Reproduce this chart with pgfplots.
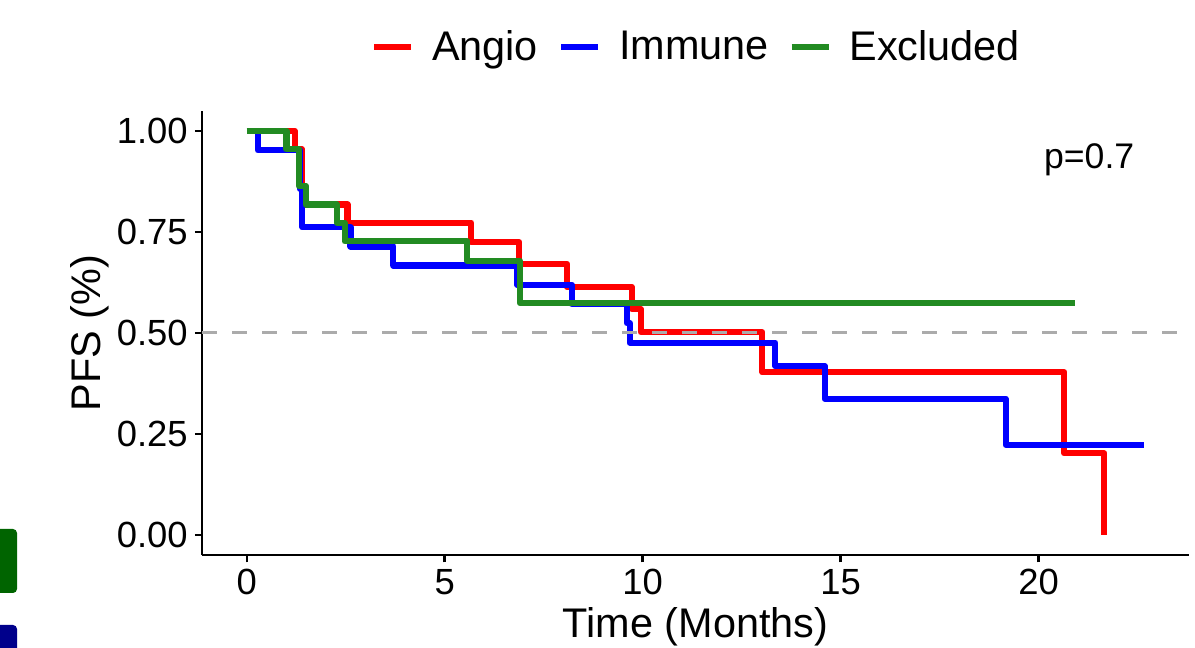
\documentclass[border=0pt]{standalone}
\usepackage{fontspec}
\setmainfont{Liberation Sans}
\usepackage{pgfplots}
\pgfplotsset{compat=1.18}
\definecolor{kmred}{HTML}{FF0000}
\definecolor{kmblue}{HTML}{0000FF}
\definecolor{kmgreen}{HTML}{228B22}
\definecolor{medgray}{HTML}{ABABAB}
\definecolor{tabgreen}{HTML}{006400}
\definecolor{tabblue}{HTML}{00008B}

% Kaplan-Meier steps: (time, survival from that time on)
\pgfplotstableread{
t s
0 1
1.21 0.955
1.39 0.864
1.46 0.818
2.54 0.773
5.67 0.725
6.88 0.671
8.09 0.614
9.72 0.559
9.95 0.502
13.02 0.403
20.65 0.202
21.66 0
}\angio
\pgfplotstableread{
t s
0 1
0.28 0.952
1.34 0.857
1.40 0.762
2.62 0.714
3.70 0.667
6.83 0.619
8.21 0.571
9.60 0.524
9.67 0.476
13.35 0.418
14.60 0.337
19.17 0.223
22.67 0.223
}\immune
\pgfplotstableread{
t s
0 1
1.00 0.955
1.31 0.864
1.49 0.818
2.27 0.773
2.47 0.727
5.57 0.679
6.90 0.574
20.93 0.574
}\excluded

\begin{document}
\begin{tikzpicture}
\path[use as bounding box] (0,0) rectangle (597.5pt,324pt);
\fill[tabgreen, rounded corners=2pt] (-5pt,27.5pt) rectangle (8.5pt,59.5pt);
\fill[tabblue, rounded corners=2pt] (-5pt,-5pt) rectangle (8.5pt,11.5pt);
\begin{axis}[
  at={(101pt,46.4pt)}, anchor=south west,
  scale only axis, width=493.5pt, height=222.2pt,
  xmin=-1.133, xmax=23.8, ymin=-0.05, ymax=1.05,
  axis x line*=bottom, axis y line*=left,
  axis line style={-, line width=1.3pt, black},
  xtick={0,5,10,15,20},
  ytick={0,0.25,0.5,0.75,1},
  yticklabel style={/pgf/number format/.cd, fixed, fixed zerofill, precision=2},
  /pgf/number format/assume math mode=true,
  tick align=outside, major tick length=3.6pt,
  tick style={line width=1.3pt, black},
  tick label style={font=\fontsize{18.2}{20}\selectfont},
  xlabel={Time (Months)}, ylabel={PFS (\%)},
  label style={font=\fontsize{20.7}{23}\selectfont},
  xlabel style={at={(axis description cs:0.5,-0.1863)}, anchor=base, inner sep=0pt},
  ylabel style={at={(axis description cs:-0.1033,0.5)}, anchor=base, inner sep=0pt},
  legend columns=3,
  legend image code/.code={\draw[#1, line width=3pt] (0pt,0pt) -- (18.5pt,0pt);},
  legend style={at={(axis description cs:0.5,1.1436)}, anchor=center,
    draw=none, fill=none, font=\fontsize{20.7}{23}\selectfont,
    nodes={inner sep=0pt},
    /tikz/every odd column/.append style={column sep=9pt},
    /tikz/every even column/.append style={column sep=10pt}},
  clip=false,
  every axis plot/.append style={line width=3.1pt, line join=round, line cap=butt, const plot mark left},
]
\addplot[kmred] table[x=t, y=s] {\angio};
\addlegendentry{Angio}
\addplot[kmblue] table[x=t, y=s] {\immune};
\addlegendentry{Immune}
\addplot[kmgreen] table[x=t, y=s] {\excluded};
\addlegendentry{Excluded}
\addplot[medgray, line width=1.5pt, dash pattern=on 7.5pt off 7.5pt, forget plot] coordinates {(-1.133,0.5) (23.8,0.5)};
\node[anchor=base west, font=\fontsize{17.8}{20}\selectfont, inner sep=0pt] at (axis cs:20.13,0.908) {p=0.7};
\end{axis}
\end{tikzpicture}
\end{document}
